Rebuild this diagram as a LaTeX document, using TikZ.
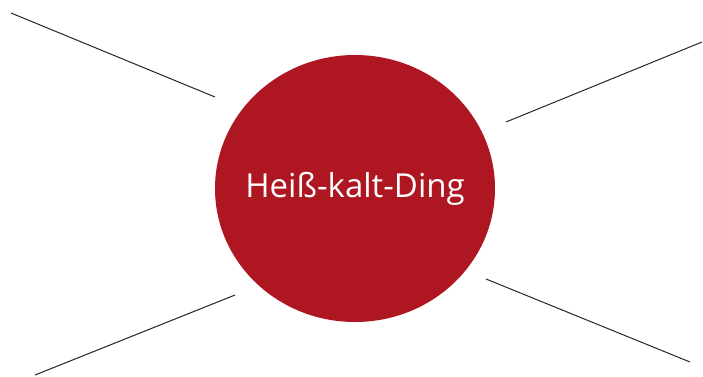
\documentclass[tikz,border=0pt]{standalone}
\usepackage{fontspec}
\setmainfont{Open Sans}
\usetikzlibrary{shapes.geometric}
\definecolor{hkred}{HTML}{AE1622}
\tikzset{
  hub/.style={ellipse, fill=hkred, draw=none, minimum width=280pt, minimum height=267pt,
    inner sep=0pt},
  hublabel/.style={inner sep=0pt, text=white, font=\fontsize{33}{38}\selectfont},
  spoke/.style={draw=black!85, line width=1pt}
}
\begin{document}
\begin{tikzpicture}[x=1pt,y=-1pt]
  \useasboundingbox (0,0) rectangle (703,376);
  \node[hub] (hub) at (355,188.5) {};
  \node[hublabel] (label) at (hub.center) {Heiß-kalt-Ding};
  % spoke end points
  \coordinate (tlo) at (11,13);   \coordinate (tli) at (215,97);
  \coordinate (tro) at (702,42);  \coordinate (tri) at (506,122);
  \coordinate (blo) at (35,375);  \coordinate (bli) at (235,295);
  \coordinate (bro) at (690,362); \coordinate (bri) at (486,279);
  \draw[spoke] (tlo) -- (tli);
  \draw[spoke] (tro) -- (tri);
  \draw[spoke] (blo) -- (bli);
  \draw[spoke] (bro) -- (bri);
\end{tikzpicture}
\end{document}
